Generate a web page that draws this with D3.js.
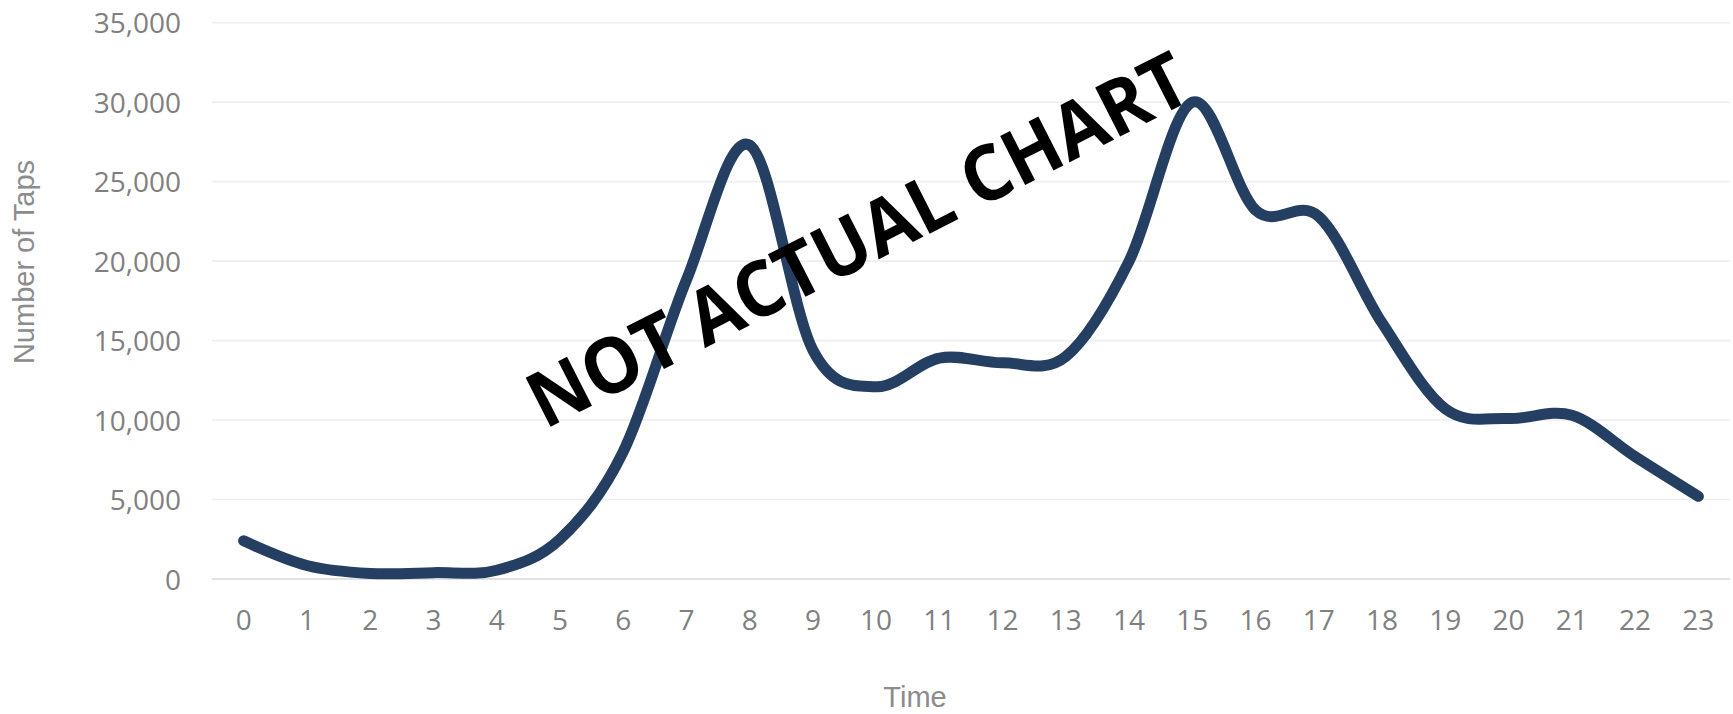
<!DOCTYPE html>
<html>
<head>
<meta charset="utf-8">
<script src="https://cdn.jsdelivr.net/npm/d3@7/dist/d3.min.js"></script>
<style>
  html, body { margin: 0; padding: 0; background: #ffffff; }
  svg { display: block; }
</style>
</head>
<body>
<div id="chart"></div>
<script>
const hours = ["0","1","2","3","4","5","6","7","8","9","10","11","12","13","14","15","16","17","18","19","20","21","22","23"];
const taps = [2400, 850, 350, 400, 550, 2500, 8000, 18800, 27300, 14400, 12100, 13900, 13600, 14000, 20000, 30000, 23200, 22800, 16100, 10700, 10100, 10300, 7700, 5200];
const yTicks = [0, 5000, 10000, 15000, 20000, 25000, 30000, 35000];
const yTitle = "Number of Taps";
const xTitle = "Time";
const watermark = "NOT ACTUAL CHART";

const W = 1733, H = 714;
const m = { left: 212, right: 3, top: 22.7, bottom: 135 };

const svg = d3.select("#chart").append("svg").attr("width", W).attr("height", H);

const x = d3.scaleBand().domain(hours).range([m.left, W - m.right]).paddingInner(0).paddingOuter(0);
const y = d3.scaleLinear().domain([0, 35000]).range([579, m.top]);

// gridlines
svg.append("g").selectAll("line").data(yTicks).join("line")
  .attr("x1", m.left).attr("x2", W - m.right)
  .attr("y1", d => y(d)).attr("y2", d => y(d))
  .attr("stroke", d => d === 0 ? "#d9d9d9" : "#eeeeee")
  .attr("stroke-width", 1.6);

// y axis labels
const yAxis = d3.axisLeft(y).tickValues(yTicks).tickSize(0).tickPadding(0)
  .tickFormat(d3.format(","));
const gy = svg.append("g").attr("transform", `translate(181,0)`).call(yAxis);
gy.select(".domain").remove();
gy.selectAll("text")
  .attr("fill", "#808080")
  .style("font-family", "'Open Sans', sans-serif")
  .style("font-size", "28px")
  .attr("dy", "0.36em");

// x axis labels
const xAxis = d3.axisBottom(x).tickSize(0).tickPadding(0);
const gx = svg.append("g").attr("transform", `translate(0,630)`).call(xAxis);
gx.select(".domain").remove();
gx.selectAll("text")
  .attr("fill", "#808080")
  .attr("y", 0).attr("dy", 0)
  .style("font-family", "'Open Sans', sans-serif")
  .style("font-size", "28px");

// line
const line = d3.line()
  .x((d, i) => x(hours[i]) + x.bandwidth() / 2)
  .y(d => y(d))
  .curve(d3.curveCardinal.tension(0));

svg.append("path").datum(taps)
  .attr("d", line)
  .attr("fill", "none")
  .attr("stroke", "#243f61")
  .attr("stroke-width", 11)
  .attr("stroke-linecap", "round")
  .attr("stroke-linejoin", "round");

// axis titles
svg.append("text")
  .attr("transform", "translate(34,262) rotate(-90)")
  .attr("text-anchor", "middle")
  .attr("fill", "#8c8c8c")
  .style("font-family", "'Liberation Sans', Arial, sans-serif")
  .style("font-size", "29px")
  .text(yTitle);

svg.append("text")
  .attr("x", 915).attr("y", 707)
  .attr("text-anchor", "middle")
  .attr("fill", "#8c8c8c")
  .style("font-family", "'Liberation Sans', Arial, sans-serif")
  .style("font-size", "29px")
  .text(xTitle);

// watermark
svg.append("text")
  .attr("transform", "translate(870,264) rotate(-27)")
  .attr("text-anchor", "middle")
  .attr("fill", "#000000")
  .style("font-family", "'Open Sans', sans-serif")
  .style("font-weight", "700")
  .style("font-size", "77px")
  .attr("textLength", 730)
  .attr("lengthAdjust", "spacingAndGlyphs")
  .text(watermark);
</script>
</body>
</html>
